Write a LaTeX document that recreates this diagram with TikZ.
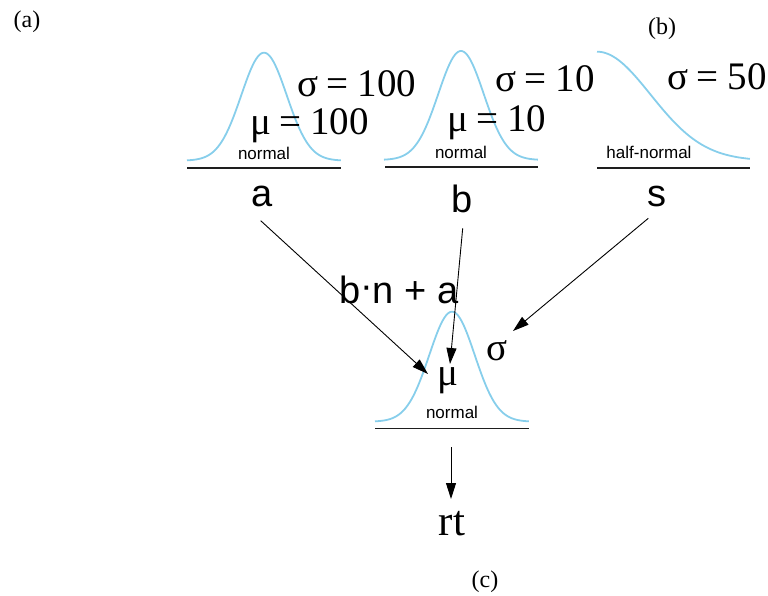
\documentclass[tikz,border=0pt]{standalone}
\usepackage{fontspec}
\setmainfont{Liberation Serif}
\newfontfamily\sansf{Liberation Sans}
\usetikzlibrary{arrows.meta}
\definecolor{curveblue}{RGB}{135,206,235}
\definecolor{rulegray}{RGB}{30,30,30}
\tikzset{
  curve/.style={curveblue, line width=1.8pt},
  baseline rule/.style={rulegray, line width=1.6pt},
  arr/.style={black, line width=0.9pt, -{Triangle[length=16pt,width=10pt]}},
  serifbig/.style={font=\fontsize{39}{41}\selectfont, inner sep=0pt},
  sanslbl/.style={font=\sansf\fontsize{38}{40}\selectfont, inner sep=0pt},
  distname/.style={font=\sansf\fontsize{17}{18}\selectfont, inner sep=0pt},
  panel/.style={font=\fontsize{24}{26}\selectfont, inner sep=0pt},
}
\newcommand\bellcurve[4]{% center x, baseline y, half width, height
  \draw[curve] plot[domain=-1:1, samples=90, smooth] ({#1+#3*\x}, {#2-#4*exp(-(\x*\x)/(2*0.295*0.295))});
}
\begin{document}
\begin{tikzpicture}[x=1pt, y=-1pt]
\useasboundingbox (0,0) rectangle (768,596);

% panel labels
\node[panel, anchor=base] (pa) at (27,28) {(a)};
\node[panel, anchor=base] (pb) at (662,35) {(b)};
\node[panel, anchor=base] (pc) at (485,587) {(c)};

% prior a
\bellcurve{264}{160.7}{77}{108}
\draw[baseline rule] (187,168.3) -- (341,168.3);
\node[distname, anchor=base] (na) at (264,160) {normal};
\node[serifbig, anchor=base west] (siga) at (297,97) {σ\:=\:100};
\node[serifbig, anchor=base west] (mua) at (250,135) {μ\:=\:100};
\node[sanslbl, anchor=base] (a) at (262,207) {a};

% prior b
\bellcurve{461}{160}{77}{109}
\draw[baseline rule] (385,167.3) -- (538,167.3);
\node[distname, anchor=base] (nb) at (461,159) {normal};
\node[serifbig, anchor=base west] (sigb) at (495,92) {σ\:=\:10};
\node[serifbig, anchor=base west] (mub) at (447,132) {μ\:=\:10};
\node[sanslbl, anchor=base] (b) at (462,212) {b};

% prior s (half-normal)
\draw[curve] plot[domain=0:1, samples=90, smooth] ({597+153*\x}, {160.7-109*exp(-(\x*\x)/(2*0.35*0.35))});
\draw[baseline rule] (597,168.3) -- (750,168.3);
\node[distname, anchor=base] (ns) at (649,159) {half-normal};
\node[serifbig, anchor=base west] (sigs) at (667,90) {σ\:=\:50};
\node[sanslbl, anchor=base] (s) at (657,207) {s};

% likelihood
\bellcurve{452}{421.7}{77}{110}
\draw[baseline rule] (375,428.3) -- (529,428.3);
\node[distname, anchor=base] (nrt) at (452,418) {normal};
\node[sanslbl, anchor=base west] (lin) at (339,303) {b\raisebox{0.12em}{·}n + a};
\node[serifbig, anchor=base] (mu) at (448,385) {μ};
\node[serifbig, anchor=base] (sig) at (497,360) {σ};
\node[serifbig, anchor=base, font=\fontsize{43}{45}\selectfont] (rt) at (452,535) {rt};

% connectors
\coordinate (aout) at (260.7,220.7);
\coordinate (bout) at (462.7,228.3);
\coordinate (sout) at (648.3,218.3);
\coordinate (muinA) at (428,374);
\coordinate (muinB) at (450,364);
\coordinate (sigin) at (513,331);
\coordinate (rtout) at (451,447);
\coordinate (rtin) at (451,499);
\draw[arr] (aout) -- (muinA);
\draw[arr] (bout) -- (muinB);
\draw[arr] (sout) -- (sigin);
\draw[arr] (rtout) -- (rtin);
\end{tikzpicture}
\end{document}
